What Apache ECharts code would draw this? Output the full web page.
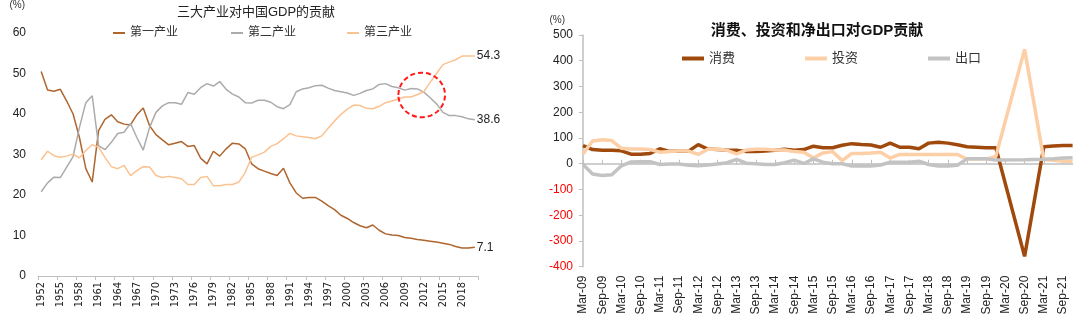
<!DOCTYPE html>
<html><head><meta charset="utf-8">
<script src="https://cdn.jsdelivr.net/npm/echarts@6/dist/echarts.min.js"></script>
<style>html,body{margin:0;padding:0;background:#fff;}#c{width:1080px;height:324px;}</style>
</head><body><div id="c"></div>
<script>
const years = ['1952','1953','1954','1955','1956','1957','1958','1959','1960','1961','1962','1963','1964','1965','1966','1967','1968','1969','1970','1971','1972','1973','1974','1975','1976','1977','1978','1979','1980','1981','1982','1983','1984','1985','1986','1987','1988','1989','1990','1991','1992','1993','1994','1995','1996','1997','1998','1999','2000','2001','2002','2003','2004','2005','2006','2007','2008','2009','2010','2011','2012','2013','2014','2015','2016','2017','2018','2019','2020'];
const primary = [50.5,45.9,45.6,46.1,43.2,40.0,34.2,26.5,23.2,35.9,38.7,39.8,38.1,37.5,37.3,39.8,41.5,37.1,34.9,33.6,32.4,32.8,33.2,32.0,32.2,29.1,27.7,30.8,29.6,31.4,32.8,32.6,31.4,27.7,26.5,25.9,25.3,24.8,26.6,23.0,20.5,19.2,19.4,19.4,18.5,17.4,16.4,15.0,14.2,13.2,12.4,11.9,12.6,11.3,10.4,10.1,10.0,9.5,9.3,9.0,8.8,8.6,8.4,8.1,7.8,7.3,6.9,6.9,7.1];
const secondary = [20.8,23.0,24.4,24.3,26.9,29.5,36.7,42.8,44.5,32.2,31.2,33.0,35.2,35.5,37.7,34.2,31.1,36.7,40.4,42.0,42.8,42.8,42.4,45.3,44.9,46.5,47.5,46.9,48.0,46.1,44.9,44.2,42.8,42.7,43.4,43.4,42.9,41.8,41.3,42.3,45.5,46.2,46.5,47.0,47.1,46.4,45.8,45.5,45.2,44.6,45.1,45.8,46.2,47.3,47.5,46.8,46.5,45.9,46.3,46.2,45.4,44.0,42.5,40.4,39.6,39.6,39.3,38.8,38.6];
const tertiary = [28.7,30.8,29.7,29.3,29.6,30.1,29.2,31.0,32.4,31.8,29.3,27.0,26.5,27.3,24.8,26.0,27.0,26.9,24.8,24.3,24.6,24.3,24.0,22.6,22.6,24.3,24.6,22.3,22.3,22.6,22.6,23.2,25.6,29.3,29.9,30.6,32.0,32.7,33.9,35.2,34.6,34.4,34.2,33.9,34.6,36.5,38.3,39.9,41.2,42.2,42.1,41.4,41.3,41.9,42.8,43.2,43.7,44.2,44.2,44.8,45.5,47.8,50.0,52.2,52.8,53.4,54.3,54.3,54.3];
const leftNames = ['第一产业','第二产业','第三产业'];

const quarters = ['Mar-09','Jun-09','Sep-09','Dec-09','Mar-10','Jun-10','Sep-10','Dec-10','Mar-11','Jun-11','Sep-11','Dec-11','Mar-12','Jun-12','Sep-12','Dec-12','Mar-13','Jun-13','Sep-13','Dec-13','Mar-14','Jun-14','Sep-14','Dec-14','Mar-15','Jun-15','Sep-15','Dec-15','Mar-16','Jun-16','Sep-16','Dec-16','Mar-17','Jun-17','Sep-17','Dec-17','Mar-18','Jun-18','Sep-18','Dec-18','Mar-19','Jun-19','Sep-19','Dec-19','Mar-20','Jun-20','Sep-20','Dec-20','Mar-21','Jun-21','Sep-21','Dec-21'];
const consumption = [70,55,52,52,50,37,37,40,58,48,48,49,74,57,55,53,52,47,47,49,52,56,52,55,68,62,62,72,78,75,73,64,80,64,64,58,80,83,80,74,66,64,62,62,null,null,-360,null,66,69,71,71];
const investment = [38,88,93,90,60,57,57,55,45,47,49,49,36,56,57,52,38,53,56,56,53,53,47,45,22,42,47,12,40,40,42,45,22,36,36,36,36,36,36,36,18,18,18,28,null,null,444,null,16,13,10,10];
const exportsNet = [-3,-40,-46,-43,-8,7,8,8,-3,-1,-1,-6,-8,-5,-1,4,17,2,0,-3,-3,4,14,1,19,6,0,0,-9,-9,-9,-5,6,6,6,10,-3,-9,-9,-6,19,19,19,14,null,null,15,null,17,19,22,23];
const rightNames = ['消费','投资','出口'];

const FONT = '"Liberation Sans", Arial, "Noto Sans CJK SC", sans-serif';
const NARROW = '"Liberation Sans Narrow", "DejaVu Sans Condensed", "Liberation Sans", Arial, sans-serif';
const leftColors = ['#B0652E','#ABABAB','#FBC291'];
const rightColors = ['#A0490C','#FCCFA6','#C3C3C3'];
const axisGray = '#BFBFBF';

const chart = echarts.init(document.getElementById('c'), null, {renderer:'canvas'});

function leftLegend(i, left) {
  return {data:[leftNames[i]], left:left, top:27, padding:0, itemWidth:12, itemHeight:2, icon:'rect',
    textStyle:{fontSize:12, color:'#333', fontFamily:FONT}};
}
function rightLegend(i, left) {
  return {data:[rightNames[i]], left:left, top:52, padding:0, itemWidth:22, itemHeight:4, icon:'rect',
    textStyle:{fontSize:13, color:'#333', fontFamily:FONT}};
}

const endLabel = {show:true, formatter:(p)=>p.value, distance:2, fontSize:12, color:'#222', fontFamily:FONT};

chart.setOption({
  animation:false,
  textStyle:{fontFamily:FONT},
  title:[
    {text:'三大产业对中国GDP的贡献', left:256, textAlign:'center', top:6, padding:0,
      textStyle:{fontSize:13, fontWeight:'normal', color:'#222', fontFamily:FONT}},
    {text:'消费、投资和净出口对GDP贡献', left:817, textAlign:'center', top:23, padding:0,
      textStyle:{fontSize:15, fontWeight:'bold', color:'#111', fontFamily:FONT}}
  ],
  legend:[leftLegend(0,113), leftLegend(1,231), leftLegend(2,347),
          rightLegend(0,682), rightLegend(1,805), rightLegend(2,928)],
  grid:[
    {left:38, top:32, width:440, height:244},
    {left:583, top:35, width:489.6, height:231.7}
  ],
  xAxis:[
    {type:'category', gridIndex:0, data:years, boundaryGap:true,
      axisLine:{show:true, lineStyle:{color:axisGray, width:1}},
      axisTick:{show:true, interval:2, length:4, lineStyle:{color:axisGray}},
      axisLabel:{interval:2, rotate:90, fontSize:11, color:'#222', margin:6, fontFamily:NARROW}},
    {type:'category', gridIndex:1, data:quarters, boundaryGap:false, position:'bottom',
      axisLine:{show:true, onZero:true, lineStyle:{color:axisGray, width:1.5}},
      axisTick:{show:true, inside:true, interval:1, length:4, lineStyle:{color:axisGray}},
      axisLabel:{show:false}},
    {type:'category', gridIndex:1, data:quarters, boundaryGap:false, position:'bottom',
      axisLine:{show:false, onZero:false}, axisTick:{show:false},
      axisLabel:{interval:1, rotate:90, fontSize:12, color:'#222', margin:9, fontFamily:FONT}}
  ],
  yAxis:[
    {type:'value', gridIndex:0, min:0, max:60, interval:10,
      name:'(%)', nameLocation:'end', nameGap:23,
      nameTextStyle:{fontSize:10, color:'#333', align:'right', padding:[0,13,0,0], fontFamily:FONT},
      axisLine:{show:false}, axisTick:{show:false}, splitLine:{show:false},
      axisLabel:{fontSize:12, color:'#222', margin:12, fontFamily:FONT}},
    {type:'value', gridIndex:1, min:-400, max:500, interval:100,
      name:'(%)', nameLocation:'end', nameGap:10,
      nameTextStyle:{fontSize:10, color:'#333', align:'right', padding:[0,18,0,0], fontFamily:FONT},
      axisLine:{show:true, lineStyle:{color:axisGray, width:1.5}},
      axisTick:{show:true, length:4, lineStyle:{color:axisGray}}, splitLine:{show:false},
      axisLabel:{fontSize:12, margin:10, fontFamily:FONT, color:(v)=> (Number(v) < 0 ? '#FF0000' : '#222')}}
  ],
  series:[
    {name:leftNames[0], type:'line', xAxisIndex:0, yAxisIndex:0, data:primary, symbol:'none',
      lineStyle:{width:1.5, color:leftColors[0]}, itemStyle:{color:leftColors[0]}, endLabel:endLabel},
    {name:leftNames[1], type:'line', xAxisIndex:0, yAxisIndex:0, data:secondary, symbol:'none',
      lineStyle:{width:1.5, color:leftColors[1]}, itemStyle:{color:leftColors[1]}, endLabel:endLabel},
    {name:leftNames[2], type:'line', xAxisIndex:0, yAxisIndex:0, data:tertiary, symbol:'none',
      lineStyle:{width:1.5, color:leftColors[2]}, itemStyle:{color:leftColors[2]}, endLabel:endLabel},
    {name:rightNames[0], type:'line', xAxisIndex:1, yAxisIndex:1, data:consumption, symbol:'none', connectNulls:true,
      lineStyle:{width:3.5, color:rightColors[0]}, itemStyle:{color:rightColors[0]}},
    {name:rightNames[1], type:'line', xAxisIndex:1, yAxisIndex:1, data:investment, symbol:'none', connectNulls:true,
      lineStyle:{width:3.5, color:rightColors[1]}, itemStyle:{color:rightColors[1]}},
    {name:rightNames[2], type:'line', xAxisIndex:1, yAxisIndex:1, data:exportsNet, symbol:'none', connectNulls:true,
      lineStyle:{width:3.5, color:rightColors[2]}, itemStyle:{color:rightColors[2]}}
  ],
  graphic:[
    {type:'ellipse', shape:{cx:421.7, cy:95, rx:23.3, ry:22.3}, z:100,
      style:{fill:'none', stroke:'#FF1A1A', lineWidth:2, lineDash:[5,3]}}
  ]
});
</script></body></html>
